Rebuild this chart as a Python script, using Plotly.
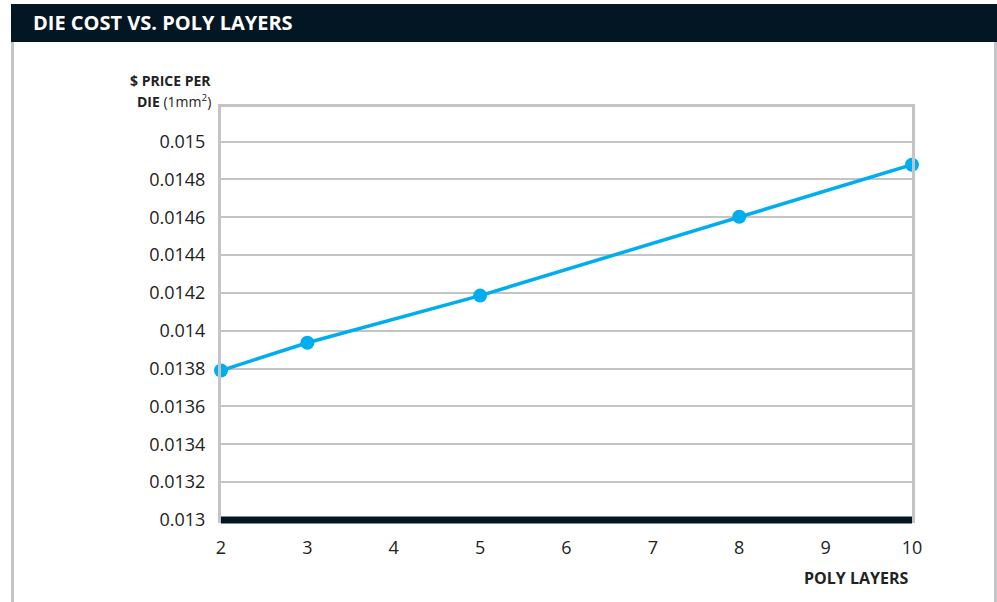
import plotly.graph_objects as go

poly_layers = [2, 3, 5, 8, 10]
price_per_die = [0.01379, 0.013937, 0.014186, 0.014603, 0.014878]
y_tick_vals = [0.013, 0.0132, 0.0134, 0.0136, 0.0138, 0.014, 0.0142, 0.0144, 0.0146, 0.0148, 0.015]
y_tick_text = ["0.013", "0.0132", "0.0134", "0.0136", "0.0138", "0.014", "0.0142", "0.0144", "0.0146", "0.0148", "0.015"]
x_tick_vals = [2, 3, 4, 5, 6, 7, 8, 9, 10]

W, H = 997, 602
L, R, T, B = 221, 912, 107, 520

def px(x):
    return (x - L) / (R - L)

def py(y):
    return (B - y) / (B - T)

DARK = "#021624"
GREY = "#c4c4c6"
BLUE = "#00aeef"
FONT = "Open Sans"
TXT = "#222222"

fig = go.Figure()
fig.add_trace(go.Scatter(
    x=poly_layers, y=price_per_die, mode="lines+markers",
    line=dict(color=BLUE, width=3.5),
    marker=dict(color=BLUE, size=14),
    cliponaxis=False, showlegend=False,
))

fig.update_layout(
    width=W, height=H,
    margin=dict(l=L, r=W - R, t=T, b=H - B),
    paper_bgcolor="white", plot_bgcolor="white",
    font=dict(family=FONT, color=TXT),
    xaxis=dict(range=[2, 10], tickvals=x_tick_vals, showgrid=False, zeroline=False,
               showline=True, linecolor=GREY, linewidth=3, mirror=True,
               tickfont=dict(size=18, color=TXT), ticks="", ticklabelstandoff=9),
    yaxis=dict(range=[0.013, 0.015183], tickvals=y_tick_vals, ticktext=y_tick_text,
               showgrid=True, gridcolor=GREY, gridwidth=2, zeroline=False,
               showline=True, linecolor=GREY, linewidth=3, mirror=True,
               tickfont=dict(size=18, color=TXT), ticks="", ticklabelstandoff=9),
)

shapes = [
    # title bar
    dict(type="rect", xref="paper", yref="paper", x0=px(11), x1=px(997), y0=py(42), y1=py(4),
         fillcolor=DARK, line=dict(width=0), layer="above"),
    # left page border
    dict(type="line", xref="paper", yref="paper", x0=px(12.5), x1=px(12.5), y0=py(42), y1=py(602),
         line=dict(color=GREY, width=3)),
    # right page border
    dict(type="line", xref="paper", yref="paper", x0=px(995.5), x1=px(995.5), y0=py(42), y1=py(602),
         line=dict(color=GREY, width=3)),
    # heavy baseline
    dict(type="line", xref="paper", yref="paper", x0=0, x1=1, y0=py(520), y1=py(520),
         line=dict(color=DARK, width=7), layer="above"),
]
fig.update_layout(shapes=shapes)

annotations = [
    dict(text="<b>DIE COST VS. POLY LAYERS</b>", xref="paper", yref="paper",
         x=px(31), y=py(22), xanchor="left", yanchor="middle", showarrow=False,
         font=dict(size=20, color="white", family=FONT)),
    dict(text="<b>$ PRICE PER</b>", xref="paper", yref="paper",
         x=px(213), y=py(80), xanchor="right", yanchor="middle", showarrow=False,
         font=dict(size=14, color=TXT, family=FONT)),
    dict(text="<b>DIE</b> (1mm<sup>2</sup>)", xref="paper", yref="paper",
         x=px(213), y=py(101), xanchor="right", yanchor="middle", showarrow=False,
         font=dict(size=14, color=TXT, family=FONT)),
    dict(text="<b>POLY LAYERS</b>", xref="paper", yref="paper",
         x=px(911), y=py(578), xanchor="right", yanchor="middle", showarrow=False,
         font=dict(size=16, color=TXT, family=FONT)),
]
fig.update_layout(annotations=annotations)

fig.write_html("out.html")
